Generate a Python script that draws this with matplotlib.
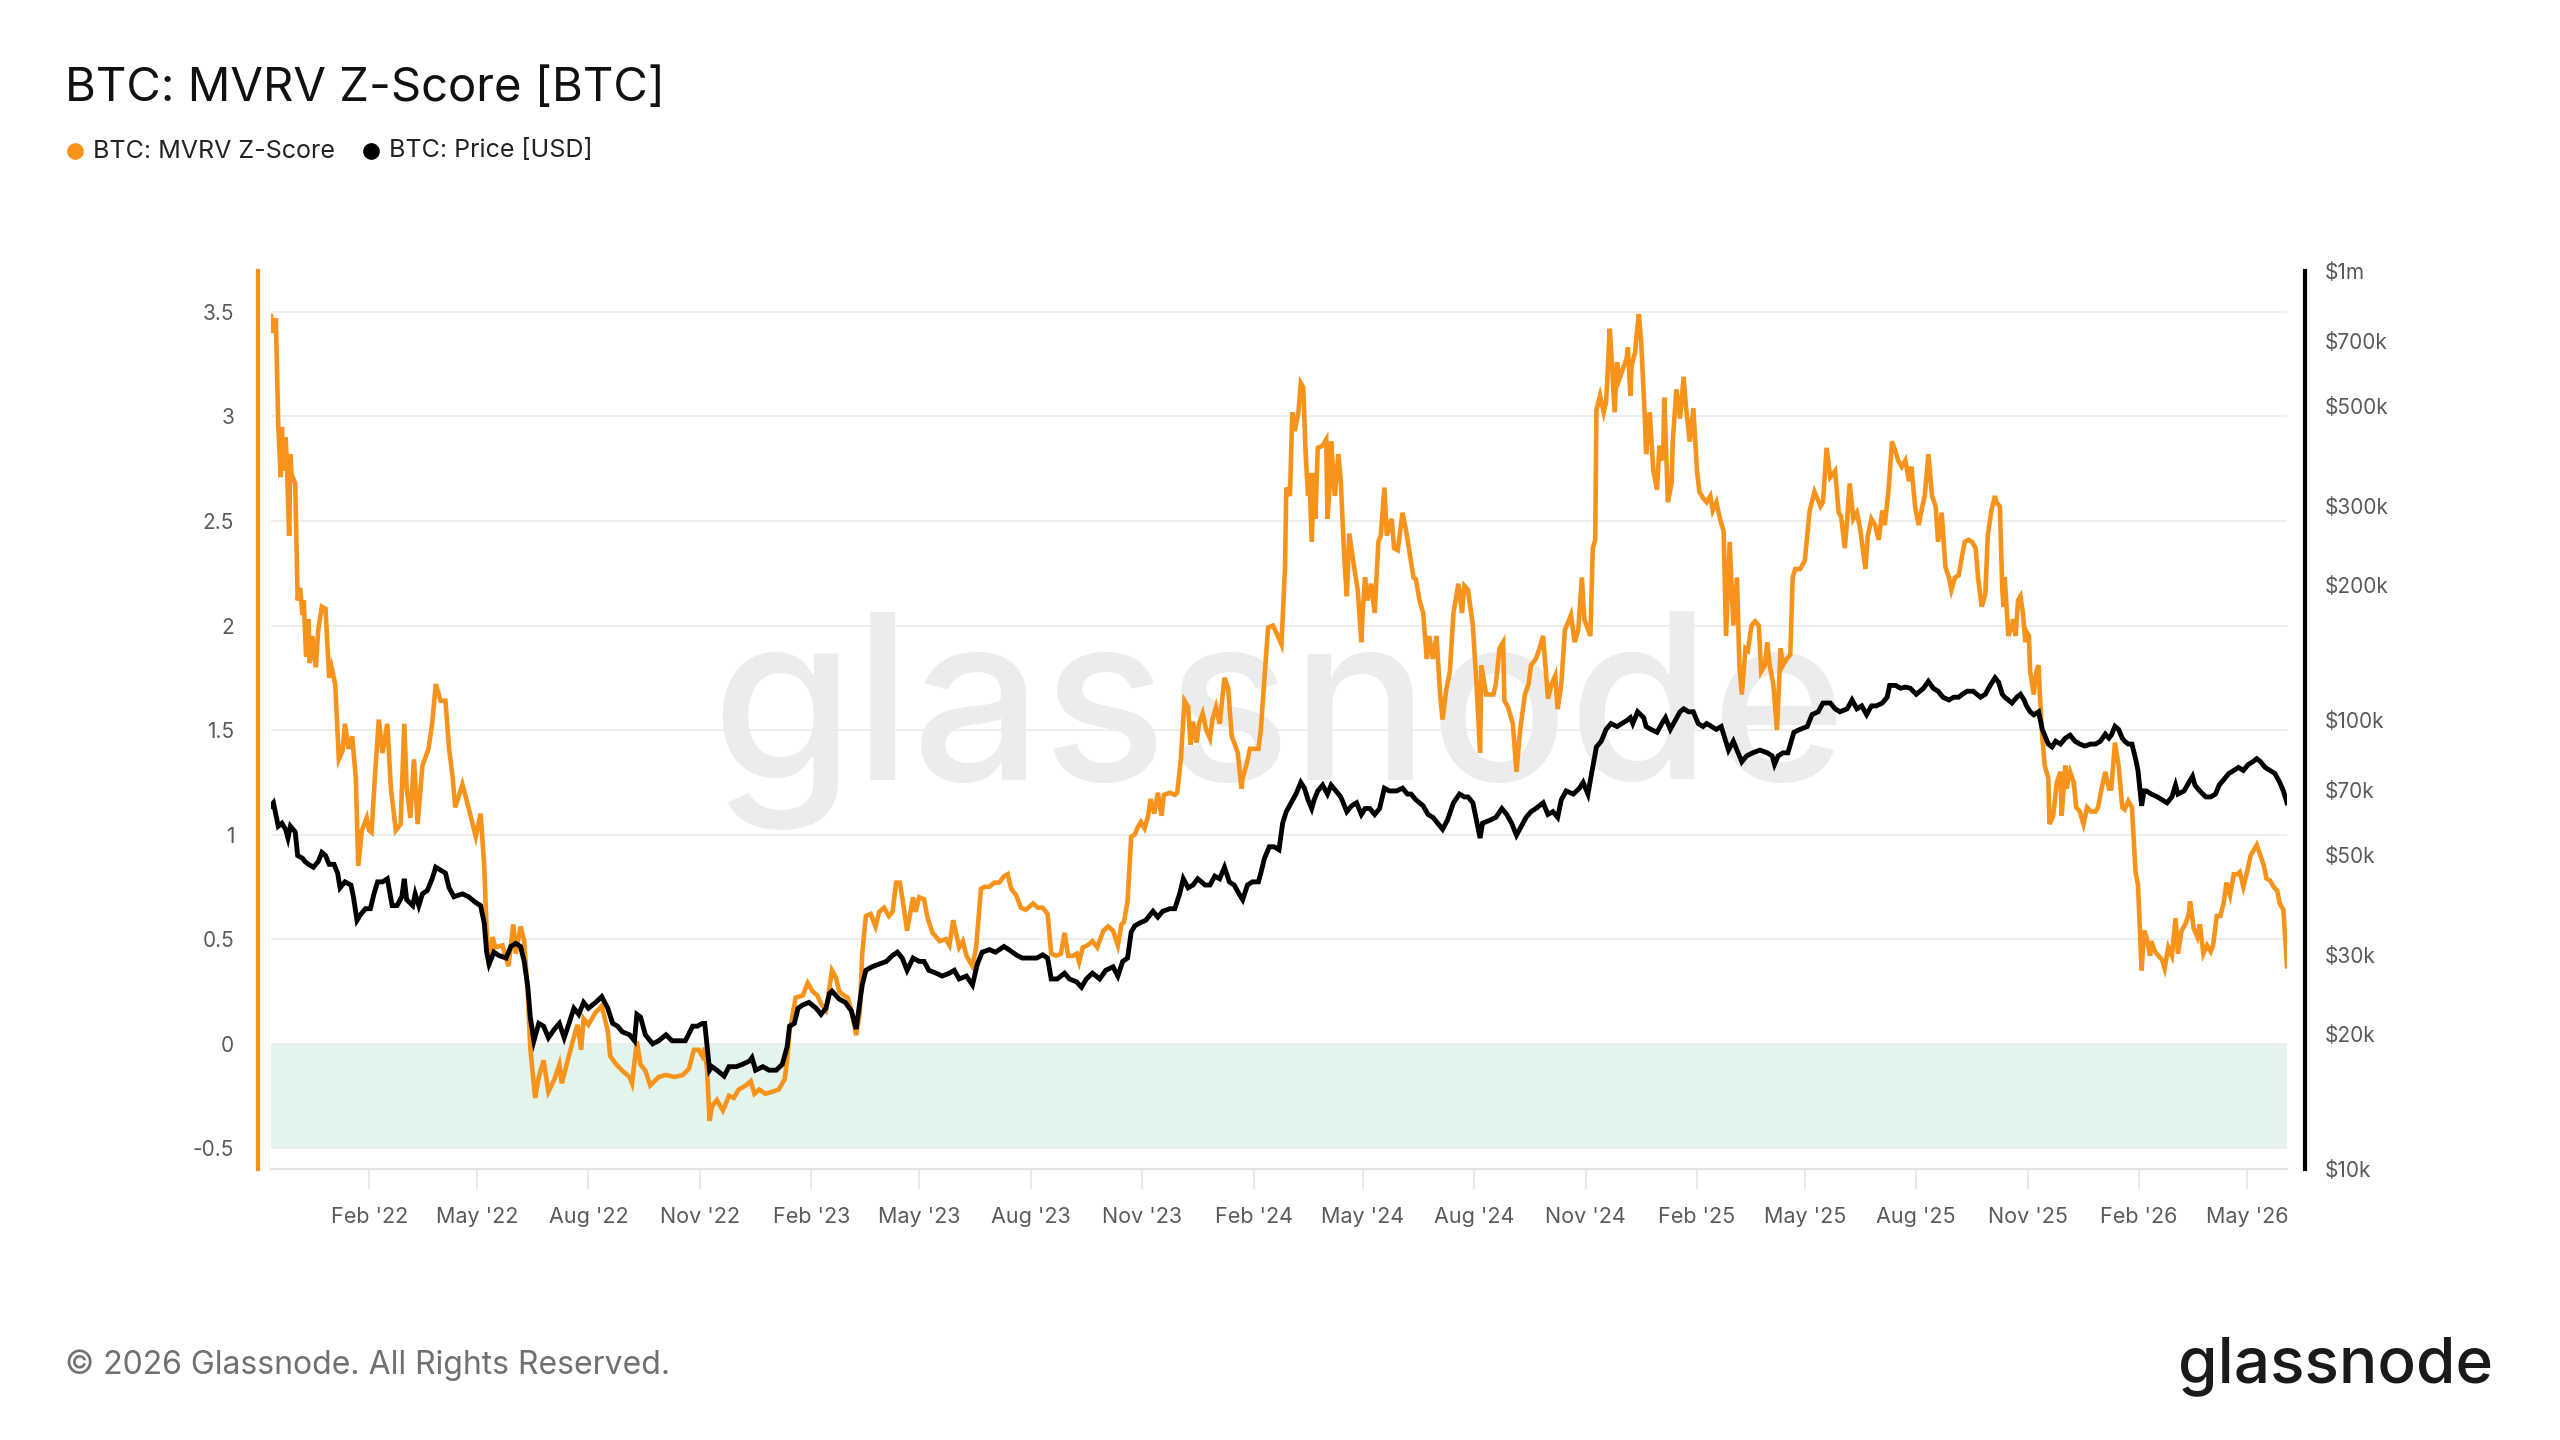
import matplotlib
matplotlib.use("Agg")
import matplotlib.pyplot as plt
import matplotlib.dates as mdates
from matplotlib.lines import Line2D
from matplotlib.ticker import FixedLocator, NullLocator
import pandas as pd

plt.rcParams["font.family"] = ["Inter", "DejaVu Sans"]

START = pd.Timestamp("2021-11-12")
N_DAYS = 1664

# MVRV Z-Score: (days since START, value)
zscore_a = [(0, 3.48), (2, 3.40), (4, 3.47), (6, 2.96), (8, 2.71), (9, 2.95), (10, 2.74), (12, 2.90),
            (13, 2.80), (15, 2.43), (16, 2.82), (17, 2.72), (20, 2.68), (22, 2.12), (24, 2.18), (26, 2.05),
            (27, 2.12), (29, 1.85), (31, 2.03), (32, 1.82), (34, 1.95), (37, 1.80), (39, 1.98), (42, 2.09),
            (45, 2.08), (48, 1.75), (50, 1.80), (53, 1.72), (56, 1.36), (59, 1.40), (61, 1.53), (64, 1.41),
            (67, 1.47), (70, 1.27), (72, 0.85), (75, 1.02), (79, 1.08), (81, 1.02), (83, 1.01), (86, 1.30),
            (89, 1.55), (92, 1.39), (96, 1.53), (99, 1.22), (103, 1.02), (107, 1.05), (110, 1.53), (112, 1.22),
            (115, 1.08), (118, 1.36), (121, 1.05), (125, 1.33), (130, 1.41), (133, 1.53), (136, 1.72), (140, 1.64),
            (144, 1.64), (147, 1.41), (150, 1.27), (152, 1.13), (158, 1.24), (163, 1.13), (169, 0.99), (173, 1.10),
            (176, 0.85), (178, 0.54), (180, 0.37), (183, 0.51), (185, 0.46), (191, 0.47), (196, 0.37), (200, 0.57),
            (202, 0.43), (206, 0.56), (209, 0.49), (212, 0.23), (214, -0.02), (218, -0.26), (221, -0.16), (225, -0.08),
            (229, -0.23), (234, -0.17), (238, -0.10), (240, -0.19), (245, -0.08), (249, 0.01), (253, 0.09), (256, -0.03),
            (258, 0.12), (262, 0.09), (268, 0.15), (273, 0.18), (278, 0.06), (280, -0.06), (285, -0.10), (290, -0.13),
            (296, -0.16), (298, -0.19), (302, 0.01), (305, -0.10), (309, -0.13), (313, -0.20), (320, -0.16), (326, -0.15),
            (333, -0.16), (340, -0.15), (345, -0.12), (349, -0.03), (353, -0.03)]
zscore_b = [(356, -0.06), (358, -0.02), (360, -0.13), (362, -0.37), (364, -0.30), (368, -0.27), (373, -0.32),
            (378, -0.25), (382, -0.26), (386, -0.22), (392, -0.20), (396, -0.18), (399, -0.24), (403, -0.22),
            (408, -0.24), (414, -0.23), (419, -0.22), (424, -0.17), (426, -0.08), (428, 0.06), (430, 0.12),
            (433, 0.22), (439, 0.23), (443, 0.29), (447, 0.25), (451, 0.23), (454, 0.19), (458, 0.16), (461, 0.27),
            (463, 0.35), (466, 0.32), (469, 0.25), (473, 0.23), (476, 0.22), (479, 0.16), (483, 0.04), (486, 0.15),
            (488, 0.43), (491, 0.61), (495, 0.62), (499, 0.56), (502, 0.63), (506, 0.65), (510, 0.61), (513, 0.63),
            (516, 0.77), (519, 0.77), (521, 0.70), (525, 0.54), (530, 0.70), (532, 0.63), (535, 0.70), (539, 0.69),
            (542, 0.60), (546, 0.53), (552, 0.49), (557, 0.50), (560, 0.47), (563, 0.59), (565, 0.54), (568, 0.46),
            (571, 0.49), (574, 0.42), (576, 0.40), (579, 0.37), (582, 0.46), (586, 0.74), (589, 0.75), (593, 0.75),
            (597, 0.77), (601, 0.77), (605, 0.80), (608, 0.81), (611, 0.74), (615, 0.71), (619, 0.65), (623, 0.64),
            (629, 0.67), (633, 0.65), (637, 0.65), (641, 0.62), (644, 0.43), (648, 0.42), (652, 0.43), (655, 0.53),
            (658, 0.42), (662, 0.42), (665, 0.43), (667, 0.39), (670, 0.46), (674, 0.47), (678, 0.49), (682, 0.46),
            (687, 0.54), (691, 0.56), (695, 0.54)]
zscore_c = [(699, 0.47), (702, 0.57), (704, 0.58), (707, 0.68), (710, 0.99), (713, 1.00), (715, 1.03), (718, 1.06),
            (721, 1.03), (724, 1.09), (726, 1.17), (729, 1.10), (732, 1.20), (735, 1.09), (737, 1.19), (742, 1.20),
            (746, 1.19), (748, 1.20), (751, 1.36), (754, 1.64), (757, 1.61), (759, 1.43), (761, 1.54), (764, 1.44),
            (766, 1.53), (769, 1.58), (772, 1.50), (775, 1.46), (777, 1.55), (780, 1.61), (783, 1.53), (787, 1.75),
            (790, 1.70), (793, 1.47), (795, 1.44), (798, 1.39), (801, 1.22), (802, 1.27), (805, 1.33), (808, 1.41),
            (810, 1.41), (815, 1.41), (817, 1.50), (820, 1.75), (823, 1.99), (827, 2.00), (831, 1.95), (834, 1.91),
            (837, 2.28), (838, 2.66), (841, 2.62), (843, 3.02), (845, 2.93), (848, 3.02), (850, 3.16), (852, 3.14),
            (854, 2.82), (856, 2.62), (857, 2.73), (859, 2.40), (861, 2.73), (862, 2.51), (864, 2.85), (868, 2.86),
            (871, 2.89), (872, 2.51), (874, 2.68), (875, 2.88), (878, 2.62), (881, 2.82), (883, 2.69), (886, 2.31),
            (888, 2.14), (890, 2.44), (894, 2.28), (897, 2.17), (900, 1.92), (901, 2.06), (903, 2.23), (905, 2.12),
            (908, 2.20), (911, 2.06), (914, 2.40), (916, 2.43), (919, 2.66), (921, 2.43), (925, 2.51), (927, 2.37),
            (930, 2.36), (934, 2.54), (937, 2.45), (940, 2.34), (943, 2.23), (945, 2.22), (948, 2.12), (951, 2.06),
            (954, 1.84), (956, 1.95), (959, 1.84), (962, 1.95), (965, 1.67), (967, 1.55), (970, 1.69), (973, 1.78),
            (976, 2.06), (980, 2.20), (983, 2.06), (985, 2.19), (988, 2.17), (992, 2.00), (995, 1.72), (998, 1.39),
            (999, 1.81), (1003, 1.67), (1006, 1.67), (1009, 1.67), (1011, 1.72), (1014, 1.89), (1017, 1.92),
            (1018, 1.64), (1021, 1.61), (1025, 1.53), (1028, 1.30), (1031, 1.50), (1035, 1.67), (1038, 1.72),
            (1040, 1.81), (1044, 1.84), (1047, 1.89)]
zscore_d = [(1050, 1.95), (1053, 1.72), (1054, 1.65), (1057, 1.72), (1060, 1.76), (1062, 1.60), (1065, 1.72),
            (1068, 1.98), (1071, 2.02), (1073, 2.05), (1076, 1.92), (1079, 1.98), (1082, 2.23), (1084, 2.03),
            (1089, 1.95), (1091, 2.37), (1093, 2.41), (1094, 3.03), (1097, 3.10), (1100, 3.02), (1102, 3.07),
            (1105, 3.42), (1106, 3.33), (1109, 3.02), (1111, 3.26), (1113, 3.18), (1116, 3.23), (1119, 3.28),
            (1120, 3.33), (1122, 3.10), (1123, 3.24), (1126, 3.31), (1127, 3.38), (1129, 3.49), (1131, 3.35),
            (1134, 2.99), (1135, 2.82), (1138, 3.02), (1141, 2.74), (1144, 2.65), (1146, 2.86), (1149, 2.79),
            (1150, 3.09), (1153, 2.59), (1156, 2.68), (1157, 2.88), (1160, 3.13), (1163, 2.99), (1166, 3.19),
            (1168, 3.04), (1171, 2.88), (1174, 3.04), (1177, 2.74), (1179, 2.64), (1182, 2.61), (1185, 2.59),
            (1188, 2.62), (1190, 2.55), (1193, 2.59), (1196, 2.51), (1199, 2.45), (1201, 1.95), (1204, 2.40),
            (1207, 2.00), (1210, 2.23), (1212, 1.81), (1214, 1.67), (1217, 1.89), (1219, 1.88), (1222, 2.00),
            (1225, 2.02), (1228, 2.00), (1230, 1.78), (1233, 1.81), (1235, 1.92), (1237, 1.81), (1240, 1.72),
            (1243, 1.50), (1246, 1.89), (1248, 1.81), (1251, 1.84), (1254, 1.86), (1256, 2.23), (1258, 2.27),
            (1262, 2.27), (1266, 2.31), (1270, 2.55), (1274, 2.64), (1279, 2.57), (1281, 2.59), (1284, 2.85),
            (1287, 2.71), (1291, 2.74), (1294, 2.54), (1296, 2.52), (1299, 2.37), (1301, 2.51), (1303, 2.68),
            (1306, 2.51), (1309, 2.54), (1312, 2.45), (1316, 2.27), (1318, 2.43), (1321, 2.51), (1324, 2.48),
            (1327, 2.41), (1330, 2.55), (1332, 2.48), (1335, 2.64), (1338, 2.88), (1341, 2.83), (1343, 2.79),
            (1346, 2.76), (1349, 2.79), (1352, 2.69), (1354, 2.76), (1357, 2.57), (1360, 2.48), (1363, 2.57),
            (1365, 2.62), (1368, 2.82), (1371, 2.62), (1374, 2.57), (1376, 2.40), (1379, 2.54), (1382, 2.28),
            (1385, 2.23), (1387, 2.17), (1390, 2.23), (1393, 2.24), (1396, 2.34), (1398, 2.40), (1401, 2.41),
            (1404, 2.40), (1407, 2.37), (1409, 2.23), (1412, 2.09), (1415, 2.15)]
zscore_e = [(1417, 2.43), (1420, 2.55), (1423, 2.62), (1424, 2.59), (1427, 2.57), (1429, 2.17), (1430, 2.09),
            (1431, 2.23), (1434, 1.95), (1437, 2.00), (1438, 2.03), (1440, 1.95), (1442, 2.12), (1444, 2.14),
            (1446, 2.06), (1448, 1.92), (1449, 1.97), (1451, 1.95), (1452, 1.78), (1455, 1.67), (1457, 1.78),
            (1459, 1.81), (1460, 1.67), (1462, 1.47), (1464, 1.33), (1467, 1.27), (1468, 1.05), (1471, 1.09),
            (1474, 1.25), (1477, 1.30), (1478, 1.09), (1481, 1.33), (1482, 1.22), (1485, 1.30), (1488, 1.25),
            (1490, 1.13), (1493, 1.11), (1496, 1.05), (1499, 1.13), (1502, 1.11), (1506, 1.11), (1508, 1.13),
            (1511, 1.22), (1514, 1.30), (1517, 1.22), (1519, 1.22), (1522, 1.44), (1525, 1.33), (1528, 1.13),
            (1530, 1.12), (1533, 1.16), (1536, 1.13), (1539, 0.82), (1541, 0.76), (1544, 0.35), (1546, 0.54),
            (1548, 0.51), (1551, 0.42), (1552, 0.49), (1555, 0.44), (1558, 0.42), (1561, 0.40), (1563, 0.36),
            (1566, 0.46), (1569, 0.42), (1572, 0.60), (1574, 0.43), (1577, 0.54), (1580, 0.57), (1583, 0.62),
            (1584, 0.68), (1587, 0.55), (1590, 0.51), (1592, 0.57), (1595, 0.43), (1598, 0.47), (1601, 0.44),
            (1603, 0.47), (1606, 0.61), (1609, 0.61), (1612, 0.68), (1614, 0.77), (1617, 0.71), (1620, 0.81),
            (1623, 0.81), (1625, 0.82), (1628, 0.75), (1631, 0.82), (1634, 0.90), (1636, 0.92), (1639, 0.95),
            (1642, 0.90), (1645, 0.85), (1647, 0.79), (1650, 0.78), (1653, 0.75), (1656, 0.73), (1658, 0.67),
            (1661, 0.64), (1664, 0.37)]

# BTC price in thousand USD: (days since START, value)
price_a = [(0, 64.4), (2, 65.4), (4, 61.6), (6, 58.0), (9, 58.9), (12, 57.1), (14, 54.6), (16, 58.0), (20, 56.3),
           (22, 49.9), (26, 49.2), (28, 48.4), (31, 47.7), (35, 47.0), (39, 48.4), (42, 50.7), (45, 49.9), (48, 47.7),
           (52, 47.7), (55, 45.6), (57, 42.3), (61, 43.6), (66, 42.9), (68, 40.4), (71, 35.8), (74, 36.9), (78, 38.0),
           (82, 38.0), (85, 41.0), (88, 43.6), (92, 43.6), (96, 44.3), (100, 38.6), (104, 38.6), (108, 40.4),
           (110, 44.3), (112, 39.8), (117, 38.6), (119, 41.0), (122, 38.6), (125, 41.0), (129, 41.7), (133, 44.3),
           (136, 47.0), (140, 46.3), (144, 45.6), (147, 42.3), (151, 40.4), (158, 41.0), (163, 40.4), (169, 39.2),
           (173, 38.6), (176, 35.3), (178, 30.4), (180, 28.6), (184, 30.4), (188, 29.9), (194, 29.5), (198, 31.3),
           (202, 31.8), (206, 31.3), (209, 29.0), (212, 25.4), (214, 21.8), (217, 19.3), (221, 21.1), (225, 20.8),
           (229, 19.6), (234, 20.5), (238, 21.1), (242, 19.6), (246, 21.1), (250, 22.8), (254, 22.1), (258, 23.5),
           (262, 22.8), (268, 23.5), (273, 24.2), (278, 22.8), (282, 21.1), (286, 20.8), (290, 20.2), (296, 19.9),
           (300, 19.3), (302, 22.1), (305, 21.8), (309, 19.9), (315, 19.0), (320, 19.3), (326, 19.9), (331, 19.3),
           (337, 19.3), (342, 19.3), (348, 20.8), (352, 20.8)]
price_b = [(356, 21.1), (358, 21.1), (360, 18.7), (362, 16.6), (364, 16.9), (368, 16.6), (374, 16.1), (378, 16.9),
           (384, 16.9), (389, 17.1), (395, 17.4), (397, 17.7), (400, 16.6), (406, 16.9), (411, 16.6), (417, 16.6),
           (422, 17.1), (426, 18.7), (428, 20.8), (432, 21.1), (435, 22.8), (439, 23.2), (444, 23.5), (450, 22.8),
           (454, 22.1), (458, 22.8), (461, 24.6), (463, 24.9), (469, 23.9), (474, 23.5), (479, 22.5), (483, 20.5),
           (485, 22.5), (488, 25.7), (491, 27.7), (496, 28.2), (502, 28.6), (508, 29.0), (513, 29.9), (517, 30.4),
           (521, 29.5), (525, 27.7), (530, 29.5), (535, 29.0), (539, 29.0), (543, 27.7), (549, 27.3), (554, 26.9),
           (560, 27.3), (564, 27.7), (568, 26.5), (574, 26.9), (579, 25.7), (583, 28.6), (587, 30.4), (593, 30.8),
           (598, 30.4), (605, 31.3), (609, 30.8), (615, 30.0), (620, 29.5), (626, 29.5), (632, 29.5), (637, 30.0),
           (641, 29.5), (644, 26.5), (649, 26.5), (655, 27.3), (659, 26.5), (665, 26.1), (669, 25.4), (673, 26.5),
           (678, 27.3), (684, 26.5), (689, 27.7), (695, 28.2)]
price_c = [(699, 26.9), (703, 29.0), (707, 29.5), (710, 33.7), (713, 34.8), (717, 35.3), (722, 35.8), (728, 37.5),
           (732, 36.4), (736, 37.5), (742, 38.0), (746, 38.0), (750, 41.0), (753, 44.3), (757, 42.3), (761, 42.9),
           (765, 44.3), (771, 42.9), (775, 42.9), (779, 44.9), (783, 44.3), (787, 47.0), (791, 43.6), (795, 42.9),
           (799, 41.0), (802, 39.8), (806, 42.9), (810, 43.6), (815, 43.6), (817, 45.6), (820, 49.2), (824, 52.2),
           (828, 52.2), (832, 51.4), (835, 58.9), (838, 62.5), (842, 65.4), (846, 68.4), (850, 72.6), (853, 70.5),
           (856, 66.4), (859, 63.5), (861, 66.4), (864, 69.5), (868, 71.6), (872, 68.4), (875, 71.6), (879, 69.5),
           (883, 67.4), (888, 62.5), (892, 64.4), (896, 65.4), (900, 61.6), (903, 63.5), (907, 63.5), (911, 61.6),
           (915, 63.5), (919, 70.5), (923, 69.5), (929, 69.5), (934, 70.5), (938, 68.4), (941, 68.4), (945, 66.4),
           (951, 64.4), (955, 61.6), (959, 60.7), (963, 58.9), (967, 57.1), (971, 59.8), (976, 65.4), (981, 68.4),
           (985, 67.4), (988, 67.4), (992, 65.4), (995, 59.8), (998, 54.6), (1000, 58.9), (1006, 59.8), (1011, 60.7),
           (1016, 63.5), (1020, 61.6), (1024, 58.9), (1028, 55.4), (1032, 58.0), (1036, 60.7), (1040, 62.5),
           (1044, 63.5), (1050, 65.4)]
price_d = [(1054, 61.6), (1058, 62.5), (1062, 60.7), (1065, 66.4), (1069, 69.5), (1075, 68.4), (1080, 70.5),
           (1083, 72.6), (1087, 68.4), (1090, 76.0), (1094, 87.1), (1098, 89.7), (1102, 95.3), (1106, 98.2),
           (1111, 96.7), (1115, 98.2), (1119, 99.7), (1122, 101.2), (1124, 98.2), (1128, 104.3), (1133, 101.2),
           (1135, 96.7), (1139, 95.3), (1144, 93.9), (1148, 98.2), (1151, 101.2), (1155, 95.3), (1159, 99.7),
           (1163, 104.3), (1166, 105.9), (1170, 104.3), (1174, 104.3), (1178, 98.2), (1182, 96.7), (1185, 98.2),
           (1189, 96.7), (1193, 95.3), (1197, 96.7), (1200, 91.1), (1203, 85.7), (1207, 89.7), (1211, 84.5),
           (1214, 80.7), (1218, 83.2), (1223, 84.5), (1229, 85.7), (1235, 84.5), (1239, 83.2), (1241, 79.6),
           (1244, 83.2), (1248, 84.5), (1252, 84.5), (1257, 93.9), (1262, 95.3), (1268, 96.7), (1272, 102.8),
           (1277, 104.3), (1281, 109.1), (1287, 109.1), (1291, 105.9), (1295, 104.3), (1301, 105.9), (1305, 110.8),
           (1309, 105.9), (1313, 107.5), (1317, 102.8), (1321, 107.5), (1325, 107.5), (1330, 109.1), (1334, 112.4),
           (1336, 119.4), (1341, 119.4), (1345, 117.7), (1349, 118.4), (1353, 117.7), (1358, 114.1), (1364, 117.7),
           (1368, 121.9), (1372, 117.7), (1376, 115.9), (1380, 112.4), (1385, 110.8), (1389, 112.4), (1393, 112.4),
           (1396, 114.1), (1400, 115.9), (1405, 115.9), (1411, 112.4), (1415, 114.1)]
price_e = [(1419, 119.4), (1423, 124.2), (1426, 121.3), (1429, 114.1), (1431, 112.4), (1434, 110.8), (1437, 109.1),
           (1441, 112.4), (1444, 114.1), (1447, 110.8), (1449, 107.5), (1452, 104.3), (1455, 102.7), (1459, 104.3),
           (1462, 95.3), (1464, 92.5), (1467, 88.4), (1470, 87.1), (1473, 89.7), (1477, 88.4), (1481, 91.1),
           (1485, 92.5), (1489, 89.7), (1493, 88.4), (1497, 87.5), (1502, 88.4), (1506, 88.4), (1510, 89.7),
           (1514, 93.0), (1517, 91.1), (1519, 92.5), (1522, 96.8), (1525, 95.3), (1528, 91.1), (1530, 89.7),
           (1533, 88.4), (1536, 88.4), (1539, 82.0), (1541, 77.2), (1544, 64.4), (1546, 69.5), (1548, 69.5),
           (1552, 68.4), (1557, 67.4), (1561, 66.4), (1565, 65.4), (1569, 67.4), (1572, 71.6), (1574, 68.4),
           (1579, 69.5), (1583, 72.6), (1586, 74.9), (1588, 71.6), (1592, 69.5), (1597, 67.4), (1601, 67.4),
           (1605, 68.4), (1608, 71.6), (1612, 73.8), (1616, 76.0), (1620, 77.2), (1624, 78.4), (1628, 77.2),
           (1632, 79.6), (1636, 80.8), (1639, 82.0), (1642, 80.8), (1646, 78.4), (1650, 77.2), (1654, 76.0),
           (1658, 72.6), (1661, 69.5), (1664, 65.4)]

z_ticks = [-0.5, 0, 0.5, 1, 1.5, 2, 2.5, 3, 3.5]
z_labels = ["-0.5", "0", "0.5", "1", "1.5", "2", "2.5", "3", "3.5"]
price_ticks = [1e4, 2e4, 3e4, 5e4, 7e4, 1e5, 2e5, 3e5, 5e5, 7e5, 1e6]
price_labels = ["$10k", "$20k", "$30k", "$50k", "$70k", "$100k", "$200k", "$300k", "$500k", "$700k", "$1m"]

ORANGE = "#F7931A"
GREY_TXT = "#5a5a5a"


def to_series(*chunks):
    pts = [p for c in chunks for p in c]
    days = [p[0] for p in pts]
    vals = [p[1] for p in pts]
    return START + pd.to_timedelta(days, unit="D"), vals


z_dates, z_vals = to_series(zscore_a, zscore_b, zscore_c, zscore_d, zscore_e)
p_dates, p_vals = to_series(price_a, price_b, price_c, price_d, price_e)
p_vals = [v * 1000 for v in p_vals]

W, H = 2560, 1440
fig = plt.figure(figsize=(W / 100, H / 100), dpi=100)
fig.patch.set_facecolor("white")
ax = fig.add_axes([271 / W, 1 - 1169 / H, (2287 - 271) / W, 898 / H])
ax2 = ax.twinx()

# left axis: z-score
ax.set_xlim(START, START + pd.Timedelta(days=N_DAYS))
ax.set_ylim(-0.6, 3.696)
ax.axhspan(-0.5, 0, color="#e2f4ec", lw=0, zorder=0.4)
ax.text(0.5, 0.5, "glassnode", transform=ax.transAxes, ha="center", va="center",
        fontsize=166, color="#ececec", fontweight="medium", zorder=0.3)
ax.yaxis.set_major_locator(FixedLocator(z_ticks))
ax.set_yticklabels(z_labels)
ax.yaxis.grid(True, color="#ebebeb", lw=1.2)
ax.set_axisbelow(True)
ax.plot(z_dates, z_vals, color=ORANGE, lw=3.3, zorder=2, solid_joinstyle="miter")

for s in ["top", "right"]:
    ax.spines[s].set_visible(False)
ax.spines["left"].set_position(("outward", 9.5))
ax.spines["left"].set_color(ORANGE)
ax.spines["left"].set_linewidth(3)
ax.spines["bottom"].set_color("#e4e4e4")
ax.spines["bottom"].set_linewidth(1.5)
ax.tick_params(axis="y", length=0, pad=17, labelsize=15, labelcolor=GREY_TXT)

ax.xaxis.set_major_locator(mdates.MonthLocator(bymonth=[2, 5, 8, 11]))
ax.xaxis.set_major_formatter(mdates.DateFormatter("%b '%y"))
ax.tick_params(axis="x", length=14.5, width=1.2, color="#e4e4e4", pad=13,
               labelsize=15.5, labelcolor=GREY_TXT)

# right axis: price, log scale
ax2.set_yscale("log")
ax2.set_ylim(1e4, 1e6)
ax2.plot(p_dates, p_vals, color="black", lw=3.5, zorder=3, solid_joinstyle="miter")
ax2.yaxis.set_major_locator(FixedLocator(price_ticks))
ax2.yaxis.set_minor_locator(NullLocator())
ax2.set_yticklabels(price_labels)
for s in ["top", "left", "bottom"]:
    ax2.spines[s].set_visible(False)
ax2.spines["right"].set_position(("outward", 13))
ax2.spines["right"].set_color("black")
ax2.spines["right"].set_linewidth(3)
ax2.tick_params(axis="y", which="both", length=0, pad=14, labelsize=15, labelcolor=GREY_TXT)

# title, legend, footer
fig.text(65 / W, 1 - 89 / H, "BTC: MVRV Z-Score [BTC]", fontsize=34, color="#111111", va="center")
legend = [(75, ORANGE, "BTC: MVRV Z-Score"), (371, "black", "BTC: Price [USD]")]
for x, c, label in legend:
    fig.add_artist(Line2D([x / W], [1 - 151 / H], marker="o", ms=11, color=c, lw=0,
                          transform=fig.transFigure))
    fig.text((x + 18) / W, 1 - 151 / H, label, fontsize=18, color="#222222", va="center")

fig.text(65 / W, 1 - 1365 / H, "\u00a9 2026 Glassnode. All Rights Reserved.", fontsize=23,
         color="#707070", va="center")
fig.text(2493 / W, 1 - 1366 / H, "glassnode", fontsize=46, color="#1a1a1a", ha="right",
         va="center", fontweight="medium")

fig.savefig("out.png", dpi=100, facecolor="white")
